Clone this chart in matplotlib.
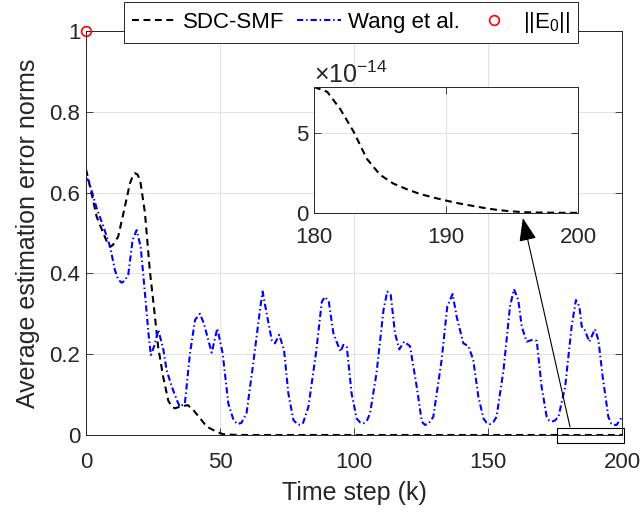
import numpy as np
import matplotlib
matplotlib.use('Agg')
import matplotlib.pyplot as plt
from matplotlib.patches import Rectangle
from matplotlib.ticker import FuncFormatter, ScalarFormatter

plt.rcParams['font.family'] = ['Liberation Sans', 'DejaVu Sans']
plt.rcParams['mathtext.fontset'] = 'custom'
plt.rcParams['mathtext.rm'] = 'Liberation Sans'
plt.rcParams['mathtext.it'] = 'Liberation Sans'
plt.rcParams['mathtext.default'] = 'regular'

# SDC-SMF (black dashed)
sdc_k = [0, 2, 4, 6.5, 8, 9, 10, 12, 14.5, 16.4, 17.5, 18.3, 19.2, 20.2, 22, 23.8, 25.6,
         26.9, 28.8, 30.7, 32, 33.2, 35, 38, 40, 42.5, 45, 48.7, 51.2, 55, 60, 100, 150, 175]
sdc_v = [0.658, 0.6, 0.54, 0.499, 0.475, 0.466, 0.47, 0.491, 0.565, 0.623, 0.642, 0.648,
         0.645, 0.631, 0.55, 0.408, 0.301, 0.219, 0.144, 0.085, 0.07, 0.066, 0.07, 0.074,
         0.062, 0.042, 0.021, 0.008, 0.002, 0.0005, 0.0, 0.0, 0.0, 0.0]

# tail of SDC-SMF shown in the inset (k = 180..200)
tail_k = [180, 181, 182, 183, 184, 185, 186, 187, 188, 189, 190,
          191, 192, 193, 194, 195, 196, 197, 198, 199, 200]
tail_v = [7.9e-14, 7.6e-14, 6.5e-14, 5.1e-14, 3.4e-14, 2.4e-14, 1.85e-14, 1.5e-14,
          1.2e-14, 0.98e-14, 0.78e-14, 0.6e-14, 0.45e-14, 0.3e-14, 0.18e-14, 0.1e-14,
          0.05e-14, 0.03e-14, 0.02e-14, 0.01e-14, 0.01e-14]

# Wang et al. (blue dash-dot)
wang_k = [0, 0.9, 4, 6.5, 9, 10.8, 12, 13.3, 14.5, 15.8, 17.4, 18.9, 20.4, 22, 23.3, 24.2,
          25.4, 27, 28.9, 30.1, 32, 34, 35, 36.9, 38.8, 40.7, 42.5, 44, 45.3, 46.9, 49,
          51, 53.1, 55, 56.5, 58, 59.9, 62.4, 64.9, 65.9, 67.4, 69.3, 70.5, 72.1, 73.9,
          75.5, 77.4, 79, 79.9, 81, 83, 85.8, 88, 89.2, 90.6, 92.3, 93.5, 95, 96, 97.3,
          99.1, 101, 102.3, 103.5, 104.8, 106, 108.4, 111, 112.4, 113.7, 115.3, 116.9,
          118.7, 120.9, 123.4, 125.3, 126.5, 127.8, 129.6, 132.7, 134.8, 136.8, 138.3,
          140.8, 142.7, 144.5, 146.4, 148.3, 149.5, 150.8, 152, 153.2, 155.8, 158.2,
          159.7, 161.3, 162.6, 164.4, 166.3, 168.2, 170, 171.9, 172.8, 173.8, 175,
          176.3, 178.8, 181.2, 182.8, 184.1, 185, 185.8, 187.8, 189.9, 191.2, 192.8,
          194.9, 196, 196.8, 198, 200]
wang_v = [0.635, 0.631, 0.561, 0.516, 0.466, 0.408, 0.385, 0.377, 0.382, 0.398, 0.483,
          0.507, 0.466, 0.351, 0.252, 0.198, 0.219, 0.26, 0.21, 0.16, 0.12, 0.085, 0.07,
          0.078, 0.202, 0.285, 0.3, 0.276, 0.243, 0.204, 0.264, 0.202, 0.078, 0.038,
          0.027, 0.03, 0.054, 0.177, 0.309, 0.355, 0.301, 0.235, 0.227, 0.248, 0.21,
          0.103, 0.037, 0.026, 0.025, 0.03, 0.07, 0.202, 0.33, 0.342, 0.33, 0.252, 0.231,
          0.206, 0.223, 0.219, 0.103, 0.041, 0.031, 0.029, 0.035, 0.054, 0.153, 0.309,
          0.355, 0.347, 0.252, 0.212, 0.231, 0.22, 0.12, 0.033, 0.025, 0.028, 0.045,
          0.186, 0.318, 0.349, 0.293, 0.227, 0.22, 0.186, 0.095, 0.041, 0.03, 0.027,
          0.032, 0.045, 0.161, 0.318, 0.361, 0.334, 0.268, 0.231, 0.235, 0.233, 0.12,
          0.045, 0.036, 0.033, 0.036, 0.045, 0.12, 0.268, 0.334, 0.318, 0.268, 0.265,
          0.231, 0.262, 0.235, 0.144, 0.045, 0.028, 0.025, 0.025, 0.045]

e0_k = [0]
e0_v = [1.0]

xticks = [0, 50, 100, 150, 200]
yticks = [0, 0.2, 0.4, 0.6, 0.8, 1]

axc = '#262626'
gridc = '#e3e3e3'

fig = plt.figure(figsize=(6.41, 5.16), dpi=100)
ax = fig.add_axes([86/641, 81/516, 536/641, 404/516])

main_k = sdc_k + tail_k
main_v = sdc_v + tail_v
l1, = ax.plot(main_k, main_v, color='k', lw=1.5, dashes=(3.3, 2.2), label='SDC-SMF')
l2, = ax.plot(wang_k, wang_v, color='b', lw=1.5, dashes=(3.0, 1.4, 0.7, 1.4),
              label='Wang et al.')
l3, = ax.plot(e0_k, e0_v, 'o', mfc='none', mec='r', ms=7, mew=1.2, clip_on=False,
              zorder=5, label=r'$||E_0||$')

ax.set_xlim(0, 200)
ax.set_ylim(0, 1)
ax.set_xticks(xticks)
ax.set_yticks(yticks)
ax.yaxis.set_major_formatter(FuncFormatter(lambda v, p: '%g' % v))
ax.grid(True, color=gridc, lw=0.8)
ax.set_axisbelow(True)
ax.tick_params(direction='in', length=5, width=0.6, colors=axc, labelsize=16,
               top=True, right=True)
ax.tick_params(axis='x', pad=12)
ax.tick_params(axis='y', pad=4)
for s in ax.spines.values():
    s.set_color(axc)
    s.set_linewidth(0.7)
ax.set_xlabel('Time step (k)', fontsize=18, color=axc, labelpad=6)
ax.set_ylabel('Average estimation error norms', fontsize=18, color=axc, labelpad=7)

# zoom box and arrow
ax.add_patch(Rectangle((175.8, -0.02), 24.9, 0.037, fill=False, ec='k', lw=0.8,
                       clip_on=False, zorder=6))
ax.annotate('', xy=(163, 0.537), xytext=(180.6, 0.02),
            arrowprops=dict(arrowstyle='-|>,head_length=0.8,head_width=0.3', color='k',
                            lw=0.8, shrinkA=0, shrinkB=0, mutation_scale=18),
            annotation_clip=False, zorder=6)

# inset
ins = fig.add_axes([314/641, (516-213)/516, 264/641, 126/516])
ins.plot(tail_k, tail_v, color='k', lw=1.5, dashes=(3.3, 2.2))
ins.set_xlim(180, 200)
ins.set_ylim(0, 7.9e-14)
ins.set_xticks([180, 190, 200])
ins.set_yticks([0, 5e-14])
fmt = ScalarFormatter(useMathText=True)
fmt.set_powerlimits((0, 0))
ins.yaxis.set_major_formatter(fmt)
ins.yaxis.get_offset_text().set_fontsize(18)
ins.yaxis.get_offset_text().set_color(axc)
ins.grid(True, color=gridc, lw=0.8)
ins.set_axisbelow(True)
ins.tick_params(direction='in', length=5, width=0.6, colors=axc, labelsize=16,
                top=True, right=True)
ins.tick_params(axis='x', pad=10)
for s in ins.spines.values():
    s.set_color(axc)
    s.set_linewidth(0.7)

leg = fig.legend([l1, l2, l3], ['SDC-SMF', 'Wang et al.', r'$||E_0||$'],
                 loc='lower left', bbox_to_anchor=(124/641, (516-43)/516, 454/641, 41/516),
                 mode='expand', ncol=3, fontsize=16, fancybox=False, framealpha=1,
                 edgecolor=axc, handlelength=2.0, handletextpad=0.3, borderpad=0.35,
                 columnspacing=0.5, borderaxespad=0)
leg.get_frame().set_linewidth(0.7)

fig.savefig('out.png', dpi=100)
